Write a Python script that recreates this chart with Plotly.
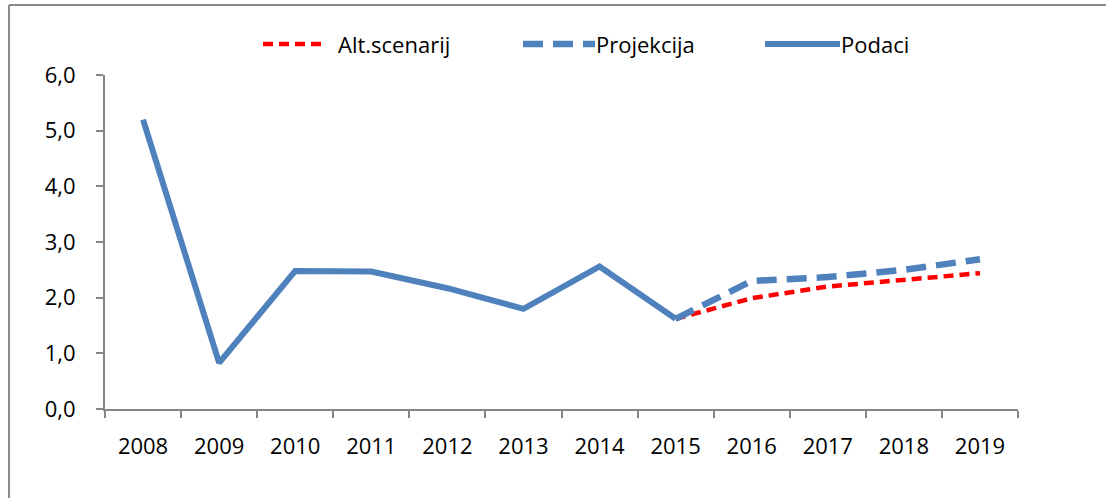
import plotly.graph_objects as go

years = ["2008", "2009", "2010", "2011", "2012", "2013", "2014", "2015",
         "2016", "2017", "2018", "2019"]
podaci = [5.2, 0.83, 2.48, 2.47, 2.17, 1.8, 2.56, 1.62, None, None, None, None]
projekcija = [None, None, None, None, None, None, None, 1.62, 2.3, 2.37, 2.5, 2.69]
alt_scenarij = [None, None, None, None, None, None, None, 1.62, 1.99, 2.2, 2.32, 2.44]
y_ticks = [0, 1, 2, 3, 4, 5, 6]
y_tick_labels = ["0,0", "1,0", "2,0", "3,0", "4,0", "5,0", "6,0"]

BLUE = "#4F81BD"
RED = "#FF0000"
GRAY = "#868686"
FONT = "Open Sans"
FS = 22

W, H = 1106, 498
ML, MR, MT, MB = 105, 88, 75, 89
PW, PH = W - ML - MR, H - MT - MB


def px_x(p):
    return (p - ML) / PW


def px_y(p):
    return (H - MB - p) / PH


fig = go.Figure()
fig.add_trace(go.Scatter(x=years, y=alt_scenarij, mode="lines", name="Alt.scenarij",
                         line=dict(color=RED, width=4.5, dash="10px,6px")))
fig.add_trace(go.Scatter(x=years, y=projekcija, mode="lines", name="Projekcija",
                         line=dict(color=BLUE, width=6.5, dash="20px,10px")))
fig.add_trace(go.Scatter(x=years, y=podaci, mode="lines", name="Podaci",
                         line=dict(color=BLUE, width=6)))

shapes = []
annotations = []
# custom legend
legend_y = px_y(44)
legend_items = [
    ("Alt.scenarij", RED, 4.5, "10px,6px", 263, 326, 336),
    ("Projekcija", BLUE, 6.5, "20px,10px", 523, 595, 594),
    ("Podaci", BLUE, 6, "solid", 765, 840, 839),
]
for name, col, wdt, dash, x0, x1, tx in legend_items:
    shapes.append(dict(type="line", xref="paper", yref="paper",
                       x0=px_x(x0), x1=px_x(x1), y0=legend_y, y1=legend_y,
                       line=dict(color=col, width=wdt, dash=dash)))
    annotations.append(dict(xref="paper", yref="paper", x=px_x(tx), y=legend_y,
                            xanchor="left", yanchor="middle", showarrow=False,
                            text=name, font=dict(family=FONT, size=FS, color="#000")))

# outer frame (top and left edges)
shapes.append(dict(type="line", xref="paper", yref="paper",
                   x0=px_x(9), x1=px_x(1110), y0=px_y(5), y1=px_y(5),
                   line=dict(color="#8c8c8c", width=2)))
shapes.append(dict(type="line", xref="paper", yref="paper",
                   x0=px_x(9), x1=px_x(9), y0=px_y(5), y1=px_y(505),
                   line=dict(color="#8c8c8c", width=2)))

fig.update_layout(
    width=W, height=H,
    margin=dict(l=ML, r=MR, t=MT, b=MB, pad=0),
    paper_bgcolor="white", plot_bgcolor="white",
    showlegend=False,
    shapes=shapes, annotations=annotations,
    font=dict(family=FONT, size=FS, color="#000"),
    xaxis=dict(type="category", categoryorder="array", categoryarray=years,
               range=[-0.5, len(years) - 0.5],
               showline=True, linecolor=GRAY, linewidth=2,
               ticks="outside", tickson="boundaries", ticklen=7, tickwidth=2,
               tickcolor=GRAY, showgrid=False, zeroline=False,
               ticklabelstandoff=17,
               tickfont=dict(family=FONT, size=FS, color="#000")),
    yaxis=dict(range=[0, 6], tickvals=y_ticks, ticktext=y_tick_labels,
               showline=True, linecolor=GRAY, linewidth=2,
               ticks="outside", ticklen=7, tickwidth=2, tickcolor=GRAY,
               showgrid=False, zeroline=False, ticklabelstandoff=16,
               tickfont=dict(family=FONT, size=FS, color="#000")),
)

fig.write_html("out.html",
               config={"displayModeBar": False},
               post_script="document.body.style.margin='0';document.body.style.padding='0';")
